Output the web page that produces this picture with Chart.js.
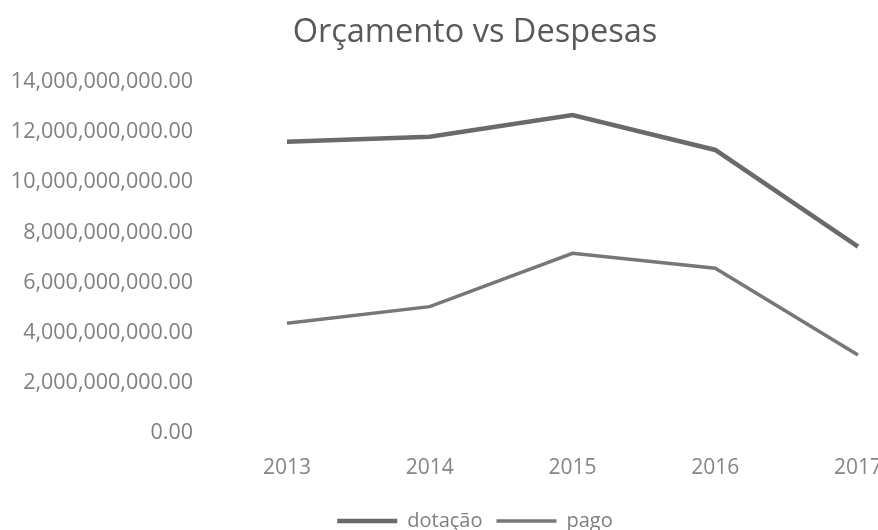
<!DOCTYPE html>
<html>
<head>
<meta charset="utf-8">
<script src="https://cdn.jsdelivr.net/npm/chart.js"></script>
<style>
html,body{margin:0;padding:0;background:#fff;overflow:hidden;}
#wrap{width:878px;height:530px;position:relative;overflow:hidden;}
</style>
</head>
<body>
<div id="wrap"><canvas id="c" width="950" height="530"></canvas></div>
<script>
const categories = ["2013", "2014", "2015", "2016", "2017"];
const dotacao = [11620000000, 11820000000, 12680000000, 11290000000, 7430000000];
const pago = [4380000000, 5040000000, 7170000000, 6570000000, 3110000000];
const yTicks = [0, 2000000000, 4000000000, 6000000000, 8000000000, 10000000000, 12000000000, 14000000000];

const fmt = v => v.toLocaleString('en-US', {minimumFractionDigits: 2, maximumFractionDigits: 2});

new Chart(document.getElementById('c'), {
  type: 'line',
  data: {
    labels: categories,
    datasets: [
      {label: 'dotação', data: dotacao, borderColor: '#6a6a6a', backgroundColor: '#6a6a6a', borderWidth: 4.5, pointRadius: 0, tension: 0},
      {label: 'pago', data: pago, borderColor: '#777777', backgroundColor: '#777777', borderWidth: 3.5, pointRadius: 0, tension: 0}
    ]
  },
  options: {
    responsive: false,
    animation: false,
    layout: {padding: {left: 0, right: 0, top: 8, bottom: -11}},
    plugins: {
      title: {display: true, text: 'Orçamento vs Despesas', color: '#595959', font: {family: 'Open Sans', size: 32.5, weight: 'normal'}, padding: {top: 5, bottom: 30}},
      legend: {position: 'bottom', labels: {usePointStyle: true, pointStyle: 'line', pointStyleWidth: 60, color: '#7f7f7f', font: {family: 'Open Sans', size: 20}, padding: 14, boxHeight: 4}},
      tooltip: {enabled: false}
    },
    scales: {
      x: {
        offset: false,
        grid: {display: false, drawTicks: false},
        border: {display: false},
        ticks: {color: '#858585', font: {family: 'Open Sans', size: 21}, padding: 22},
        afterFit: s => { s.paddingRight = 92; s.paddingLeft = 0; s.height = 64; }
      },
      y: {
        min: 0, max: 14000000000,
        afterBuildTicks: axis => { axis.ticks = yTicks.map(v => ({value: v})); },
        grid: {display: false, drawTicks: false},
        border: {display: false},
        ticks: {color: '#808080', font: {family: 'Open Sans', size: 21.5}, padding: 94, callback: v => fmt(v)},
        afterFit: s => { s.width = 287; s.paddingTop = 12; s.paddingBottom = 12; }
      }
    }
  }
});
</script>
</body>
</html>
